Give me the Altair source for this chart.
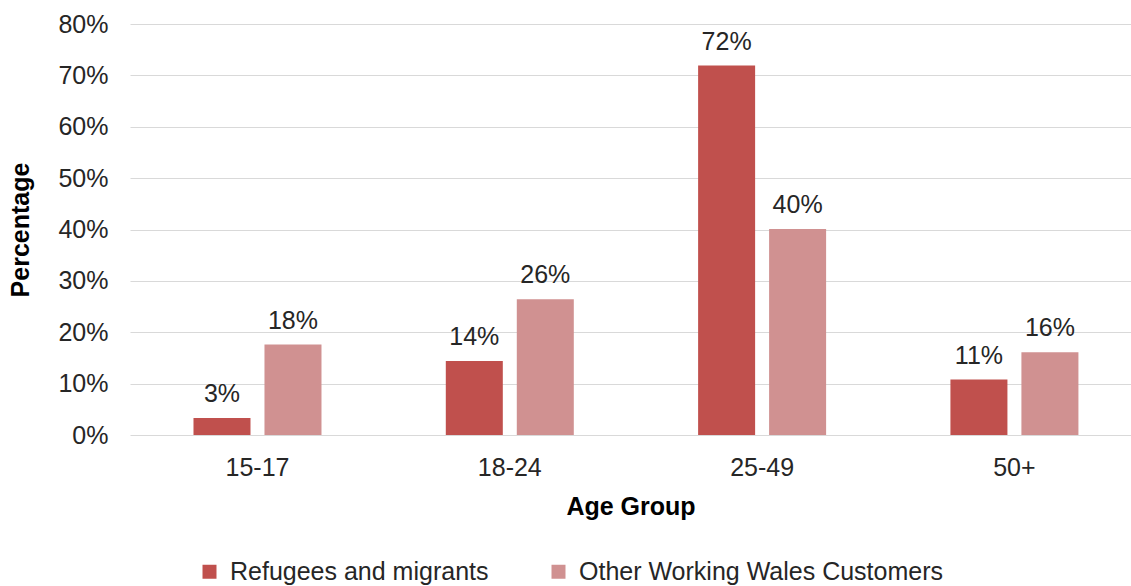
import altair as alt
import pandas as pd

# Share of customers in each age group
age_groups = ["15-17", "18-24", "25-49", "50+"]
series_names = ["Refugees and migrants", "Other Working Wales Customers"]
refugees = [0.033, 0.144, 0.719, 0.108]
others = [0.176, 0.264, 0.401, 0.161]
series_colors = ["#C0504D", "#D09191"]
y_ticks = [0, 0.1, 0.2, 0.3, 0.4, 0.5, 0.6, 0.7, 0.8]

rows = []
for i, g in enumerate(age_groups):
    rows.append({"age": g, "series": series_names[0], "value": refugees[i]})
    rows.append({"age": g, "series": series_names[1], "value": others[i]})
df = pd.DataFrame(rows)

FONT = "Liberation Sans"

base = alt.Chart(df).encode(
    x=alt.X(
        "age:N",
        sort=age_groups,
        scale=alt.Scale(paddingInner=0.4927, paddingOuter=0.23, align=0.547),
        axis=alt.Axis(
            title="Age Group",
            labelAngle=0,
            labelPadding=20,
            titlePadding=14,
            grid=False,
        ),
    ),
    xOffset=alt.XOffset(
        "series:N",
        sort=series_names,
        scale=alt.Scale(paddingInner=0.197, paddingOuter=0),
    ),
    y=alt.Y(
        "value:Q",
        scale=alt.Scale(domain=[0, 0.8], nice=False),
        axis=alt.Axis(
            title="Percentage",
            format=".0%",
            values=y_ticks,
            labelPadding=22,
            titlePadding=24,
            grid=True,
        ),
    ),
)

bars = base.mark_bar().encode(
    color=alt.Color(
        "series:N",
        sort=series_names,
        scale=alt.Scale(domain=series_names, range=series_colors),
        legend=alt.Legend(
            title=None,
            orient="none",
            direction="horizontal",
            legendX=67,
            legendY=535,
            symbolType="square",
            symbolSize=196,
            symbolStrokeWidth=0,
            symbolOpacity=1,
            labelFontSize=25,
            labelFont=FONT,
            labelColor="#262626",
            labelOffset=8,
            labelLimit=0,
            columnPadding=57,
        ),
    )
)

labels = base.mark_text(
    baseline="alphabetic",
    dy=-16,
    fontSize=25,
    font=FONT,
    color="#262626",
).encode(text=alt.Text("value:Q", format=".0%"))

chart = (
    alt.layer(bars, labels)
    .properties(
        width=1001,
        height=411,
        padding={"left": 130, "top": 24, "right": 0, "bottom": 151},
        autosize=alt.AutoSizeParams(type="none"),
        background="white",
    )
    .configure_view(stroke=None)
    .configure_axis(
        domain=False,
        ticks=False,
        tickSize=0,
        labelFont=FONT,
        labelFontSize=25,
        labelColor="#262626",
        titleFont=FONT,
        titleFontSize=25,
        titleFontWeight="bold",
        titleColor="#000000",
        gridColor="#D9D9D9",
        gridWidth=1,
    )
)

chart.save("out.html", embed_options={"renderer": "svg", "actions": False})
